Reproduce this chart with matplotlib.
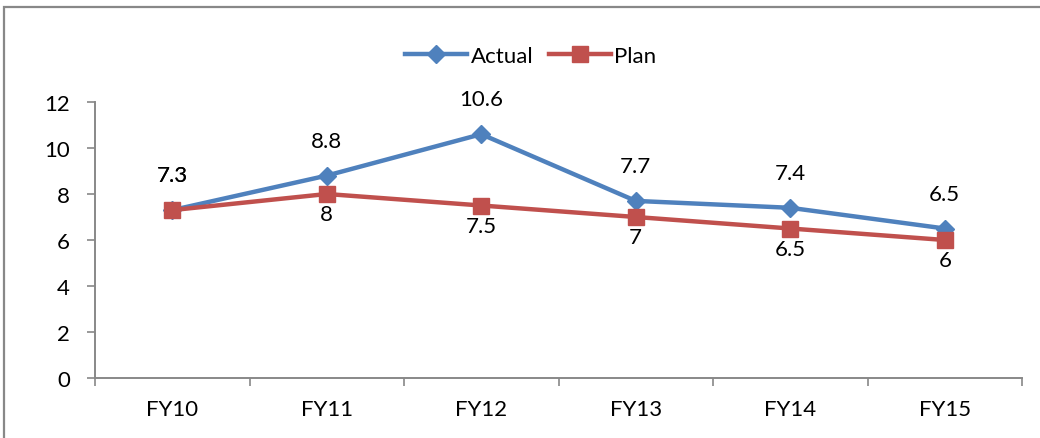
import matplotlib
matplotlib.use("Agg")
import matplotlib.pyplot as plt
from matplotlib.patches import Rectangle

years = ["FY10", "FY11", "FY12", "FY13", "FY14", "FY15"]
actual = [7.3, 8.8, 10.6, 7.7, 7.4, 6.5]
plan = [7.3, 8, 7.5, 7, 6.5, 6]

plt.rcParams['font.family'] = ['Lato', 'DejaVu Sans']

blue = '#4F81BD'
red = '#C0504D'
grey = '#888888'
fs = 16

fig = plt.figure(figsize=(10.4, 4.39), dpi=100)
W, H = 1040, 439

# outer chart frame (runs off the right and bottom edges)
fig.patches.append(Rectangle((4 / W, -0.1), 1.2, 1 - 8 / H + 0.1,
                             transform=fig.transFigure, fill=False,
                             edgecolor=grey, linewidth=1.6))
# heading sitting just above the frame, mostly outside the canvas
fig.text(0.52, 1 + 8 / H, "Figure 1: GDP growth rate - Actual vs Plan (%)",
         ha='center', va='baseline', fontsize=21, fontweight='bold',
         family='Liberation Serif')

ax = fig.add_axes([95 / W, 1 - 379 / H, (1022 - 95) / W, (379 - 103) / H])
x = list(range(len(years)))
ax.plot(x, actual, color=blue, lw=3.2, marker='D', ms=9.5,
        markerfacecolor=blue, markeredgecolor=blue, label='Actual', zorder=3)
ax.plot(x, plan, color=red, lw=3.2, marker='s', ms=11,
        markerfacecolor=red, markeredgecolor=red, label='Plan', zorder=4)

for xi, v in zip(x, actual):
    ax.annotate(f"{v:g}", (xi, v), xytext=(0, 25), textcoords='offset points',
                ha='center', va='center', fontsize=fs)
for xi, v in zip(x, plan):
    off = 25 if xi == 0 else -14.5
    ax.annotate(f"{v:g}", (xi, v), xytext=(0, off), textcoords='offset points',
                ha='center', va='center', fontsize=fs, zorder=5)

ax.set_xlim(-0.5, 5.5)
ax.set_ylim(0, 12)
ax.set_yticks(range(0, 13, 2))
ax.set_xticks(x)
ax.set_xticklabels(years)
ax.set_xticks([i - 0.5 for i in range(len(years) + 1)], minor=True)
ax.tick_params(axis='x', which='major', length=0, pad=15, labelsize=fs)
ax.tick_params(axis='x', which='minor', length=6, width=1.2, color=grey)
ax.tick_params(axis='y', length=6, width=1.2, color=grey, pad=12, labelsize=fs)

for s in ['top', 'right']:
    ax.spines[s].set_visible(False)
for s in ['left', 'bottom']:
    ax.spines[s].set_color(grey)
    ax.spines[s].set_linewidth(1.4)

ax.legend(loc='center', bbox_to_anchor=(0.47, 1.167), ncol=2, frameon=False,
          fontsize=fs, handlelength=2.8, columnspacing=0.7, handletextpad=0.15)

fig.savefig("out.png", dpi=100)
